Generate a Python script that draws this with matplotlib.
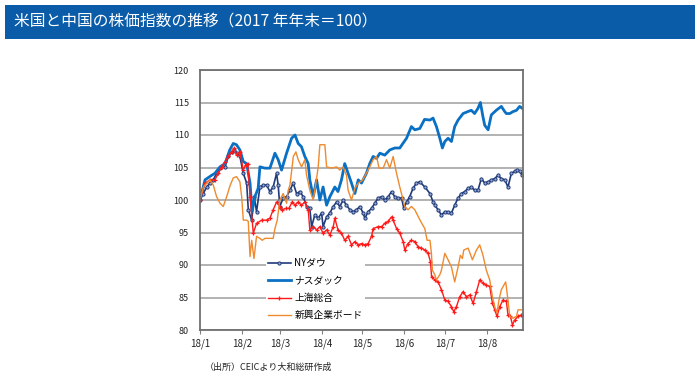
import matplotlib
matplotlib.use('Agg')
import matplotlib.pyplot as plt
from matplotlib.patches import Rectangle

plt.rcParams['font.family'] = ['Noto Sans CJK JP', 'DejaVu Sans']

title = "米国と中国の株価指数の推移（2017 年年末＝100）"
source = "（出所）CEICより大和総研作成"
series_names = ["NYダウ", "ナスダック", "上海総合", "新興企業ボード"]
month_days = [0, 31, 59, 90, 120, 151, 181, 212]
month_labels = ["18/1", "18/2", "18/3", "18/4", "18/5", "18/6", "18/7", "18/8"]
y_ticks = [80, 85, 90, 95, 100, 105, 110, 115, 120]

# days since 2017-12-31, index values
dow_days = [0, 2.5, 4.9, 7.4, 9.8, 12.3, 14.8, 18.5, 21, 23.4, 25.3, 27, 29.5, 32, 34.5, 35.7, 38.2, 40.1, 41.8,
            44.3, 46.8, 49.2, 51.7, 54.1, 56.6, 57.8, 59, 61.5, 64, 66.5, 68.9, 71.4, 73.9, 76.3, 78.8, 81.2, 82.5,
            84.9, 87.4, 89.9, 91, 93.6, 96, 98.5, 101, 103.4, 105.8, 108.3, 110.8, 113.2, 115.7, 118.2, 120.6, 121.9,
            124.3, 126.8, 129.2, 131.7, 134.2, 136.6, 139.1, 141.6, 144, 146.5, 149, 150.7, 152.7, 155, 157.5, 160,
            162.5, 166.2, 170, 172.3, 173.6, 176, 178.5, 181, 183.4, 185.9, 188.3, 190.8, 193.3, 195.7, 198.2, 200.6,
            203, 205.5, 208, 210.5, 213, 215.4, 217.9, 220.3, 222.8, 225.3, 227.7, 230.2, 232.6, 234.4, 236.3, 238.3]
dow_vals = [100, 101, 102, 102.6, 103.1, 104.1, 104.9, 105.1, 106.7, 107.4, 107.7, 107.3, 106.7, 104.1, 102.6, 98.5,
            96.9, 100.5, 98.2, 102, 102.3, 102.3, 101.3, 102, 104.1, 102.3, 99, 100.3, 100.5, 101.5, 102.6, 101, 101.3,
            100.5, 99, 98.7, 95.9, 97.7, 97.2, 98, 95.9, 97.4, 98, 99, 99.7, 99, 100, 99.2, 98.5, 98.2, 98.5, 99, 98,
            97.2, 98.2, 98.7, 99.5, 100.3, 100.5, 100, 100.5, 101.3, 100.5, 100.3, 100.3, 98.7, 99.7, 100.5, 101.8,
            102.6, 102.8, 102, 101, 99.7, 99.2, 98.5, 97.7, 98.2, 98.2, 98, 99.2, 100.3, 101, 101.3, 101.8, 102,
            101.5, 101.5, 103.3, 102.6, 102.8, 103.1, 103.3, 103.8, 103.3, 103.1, 102, 104.1, 104.4, 104.6, 104.4, 103.8]

nasdaq_days = [0, 3.7, 8.6, 11, 14.8, 18.5, 22, 24.6, 27, 29.5, 32, 34.5, 37, 38.5, 40.6, 43, 44.3, 48, 51.7, 55.4,
               57.8, 60.3, 64, 67.7, 70.2, 72.6, 75, 77.5, 80, 81.2, 83.7, 86.2, 88.6, 91, 93.6, 96, 99.7, 102, 104.6,
               107, 109.5, 112, 114.5, 117, 119.4, 123, 125.5, 128, 130.5, 133, 136.6, 140.3, 144, 147.7, 150, 152.7,
               156.3, 158.8, 162.5, 166, 170, 172.3, 174.8, 177.3, 179.2, 181, 183.4, 185.9, 188.3, 190.8, 194.5, 198,
               200.6, 203, 205.5, 207.3, 209.2, 210.5, 213, 215.4, 219, 222.8, 225.3, 226.5, 229, 231.4, 234, 236.3,
               238.3]
nasdaq_vals = [100, 103.1, 103.8, 104.1, 105.1, 105.6, 107.7, 108.7, 108.5, 107.7, 105.9, 105.6, 102.6, 98.2, 100.5,
               101.8, 105.1, 104.9, 104.9, 107.2, 106.2, 104.6, 107.2, 109.5, 110, 108.7, 108.2, 106.7, 105.6, 103.1,
               100.5, 103.1, 100, 102, 99.2, 100.5, 102, 101.3, 103.1, 105.6, 104.1, 102.6, 101, 103.1, 102.6, 104.1,
               105.6, 106.7, 106.4, 107.2, 106.9, 107.7, 108, 108, 108.7, 109.5, 111.3, 110.8, 111, 112.4, 112.3, 112.6,
               111.3, 109.5, 108, 109, 109.5, 109, 111.3, 112.3, 113.3, 113.6, 113.8, 113.3, 114.1, 115, 112.8, 111.5,
               110.8, 113.1, 113.8, 114.4, 113.6, 113.3, 113.3, 113.6, 113.8, 114.4, 114.1]

shanghai_days = [0, 3.7, 7.4, 11, 13.5, 16, 18.5, 21, 23.4, 25.3, 27, 29.5, 32, 33.7, 35.2, 37, 39.4, 41.8, 45.6,
                 49.2, 51.7, 54.1, 56.6, 59, 60.8, 63.3, 65.7, 68.2, 70.2, 72.6, 75, 77.5, 80, 81.2, 83.7, 86.2, 88.6,
                 91, 93.6, 96, 98.5, 99.7, 102, 104.6, 107, 109.5, 112, 114.5, 117, 119.4, 121.9, 124.3, 126.8, 128,
                 131.7, 134.2, 136.6, 139.1, 141.6, 142.8, 145.3, 147.7, 150.2, 151.4, 153.8, 156.3, 158.8, 161.2,
                 163.7, 166.2, 168.6, 170.4, 171.2, 173.6, 176, 178.5, 181, 183.4, 185.9, 187.6, 189.6, 192, 194.5,
                 197, 199.4, 201.9, 204.4, 206.8, 209.2, 211.7, 214.2, 216.2, 217.9, 219.6, 221.6, 224, 226.5, 227.7,
                 229.5, 231, 232.6, 235.1, 237.6, 238.3]
shanghai_vals = [100, 102.6, 103.1, 103.1, 104.1, 105.1, 105.9, 106.7, 107.4, 108, 106.9, 107.4, 104.6, 105.4, 105.6,
                 100.5, 94.9, 96.4, 96.9, 96.9, 97.2, 98.5, 99.7, 99, 98.5, 98.7, 98.7, 99.7, 99.2, 99.7, 99.2, 99.7,
                 98.5, 95.4, 95.9, 95.4, 95.9, 94.9, 95.4, 94.6, 95.9, 97.2, 95.4, 94.9, 93.8, 94.4, 93.1, 93.6, 93.1,
                 93.3, 93.1, 93.3, 94.4, 95.6, 95.9, 95.9, 96.4, 96.7, 97.4, 96.9, 95.6, 94.9, 93.6, 92.3, 93.3, 93.8,
                 93.6, 92.8, 92.6, 92.3, 91.8, 90.5, 88.2, 87.7, 87.4, 86.2, 84.6, 84.4, 83.6, 82.8, 83.6, 85.1, 85.9,
                 85.1, 85.4, 84.1, 85.9, 87.7, 87.2, 86.9, 86.7, 84.1, 83.1, 82.1, 83.6, 84.6, 84.4, 82.3, 82.1, 80.8,
                 81.5, 82.1, 82.3, 82.3]

chinext_days = [0, 2.5, 4.9, 7.4, 9.8, 12.3, 14.8, 17.2, 19.7, 22.2, 24.6, 27, 29.5, 30.8, 32, 34.5, 35.7, 37, 38.2,
                39.9, 41.8, 44.3, 46, 48, 51.7, 54.1, 55.4, 57.1, 59, 61.5, 64, 65.2, 66.5, 69, 70.9, 72.6, 75.1, 77.5,
                78.8, 81.2, 83.7, 85.7, 87.4, 88.6, 92.3, 93.6, 97.2, 101, 103.4, 105.8, 108.3, 109.5, 112, 114.5,
                117, 120, 123, 125.5, 128, 130.5, 132.4, 135.4, 137.9, 140.3, 142.8, 145.3, 147.7, 150.2, 151.4,
                153.8, 156.3, 158.8, 161.2, 163.7, 166.2, 167.9, 170, 171.1, 171.8, 173.6, 174.8, 177.3, 178.5, 181,
                183.4, 185.9, 188.3, 190.8, 192.5, 194, 195, 198.2, 201.4, 204.4, 206.8, 209.2, 211.7, 214.2, 216.2,
                217.9, 219.6, 221, 222.8, 226, 227.7, 229, 231.4, 234, 235.1, 237.6]
chinext_vals = [100, 102, 102.6, 103.1, 102.3, 100.5, 99.5, 99, 100.5, 102.2, 103.4, 103.6, 102.8, 100.5, 96.9, 96.9,
                96.7, 91.3, 93.8, 91, 94.4, 94.1, 93.8, 94.1, 94.1, 94.1, 95.6, 96.9, 100, 101, 99.5, 101.5, 102.3,
                106.7, 107.4, 106.2, 105.1, 106.2, 103.8, 101.5, 100, 102.6, 105.1, 108.5, 108.5, 105.1, 104.9, 105.1,
                104.6, 105.1, 103.8, 101.5, 100, 101.8, 102.6, 103, 104.1, 105.1, 106.2, 106.7, 104.9, 104.9, 106.2,
                104.9, 106.7, 104.1, 102, 100, 99, 98.5, 99, 98.5, 97.5, 96.5, 95.6, 93.8, 93.8, 91.8, 89.2, 88.5,
                87.7, 88.5, 89.2, 91.8, 90.8, 89.7, 87.4, 89.7, 91.5, 91, 92.3, 92.6, 90.8, 92.3, 93.1, 91.5, 89.2,
                87.7, 85.1, 83.6, 82.6, 84.6, 86.2, 87.4, 84.6, 82.1, 81.8, 82.1, 83.1, 83.1]

W, H = 700, 385
fig = plt.figure(figsize=(W / 100, H / 100), dpi=100)
fig.patches.append(Rectangle((5 / W, 1 - 39 / H), 690 / W, 34 / H, transform=fig.transFigure,
                             facecolor='#0a5ca8', edgecolor='none', zorder=0))
fig.text(14 / W, 1 - 22 / H, title, color='white', fontsize=11.3, va='center', ha='left')
fig.text(205 / W, 1 - 367 / H, source, color='#222222', fontsize=6.5, va='center', ha='left')

ax = fig.add_axes([200 / W, 55 / H, 323 / W, 260 / H])
ax.set_xlim(0, 238.8)
ax.set_ylim(80, 120)
ax.set_yticks(y_ticks)
ax.set_yticklabels([str(v) for v in y_ticks])
ax.set_xticks(month_days)
ax.set_xticklabels(month_labels)
ax.yaxis.grid(True, color='#a6a6a6', linewidth=1.2)
ax.set_axisbelow(True)
ax.tick_params(axis='y', length=0, pad=8, labelsize=6.5, colors='#222222')
ax.tick_params(axis='x', length=3, width=0.8, color='#808080', pad=3, labelsize=7, labelcolor='#222222')
for s in ax.spines.values():
    s.set_color('#707070')
    s.set_linewidth(1.3)

l1, = ax.plot(dow_days, dow_vals, color='#1f3b7a', lw=1.2, marker='o', ms=2.3,
              mfc='#9aa8d0', mec='#1f3b7a', mew=0.7, label=series_names[0])
l2, = ax.plot(nasdaq_days, nasdaq_vals, color='#0a70c4', lw=2.0, label=series_names[1])
l3, = ax.plot(shanghai_days, shanghai_vals, color='#ff1a1a', lw=1.0, marker='+', ms=3.5,
              mew=0.9, label=series_names[2])
l4, = ax.plot(chinext_days, chinext_vals, color='#ef8a2e', lw=1.0, label=series_names[3])

leg = ax.legend(handles=[l1, l2, l3, l4], loc='lower left', bbox_to_anchor=(0.205, 0.03),
                frameon=True, facecolor='white', edgecolor='none', framealpha=1,
                fontsize=7, handlelength=2.3, handletextpad=0.4, labelspacing=0.75,
                borderpad=0.2, borderaxespad=0)

fig.savefig('out.png', dpi=100)
